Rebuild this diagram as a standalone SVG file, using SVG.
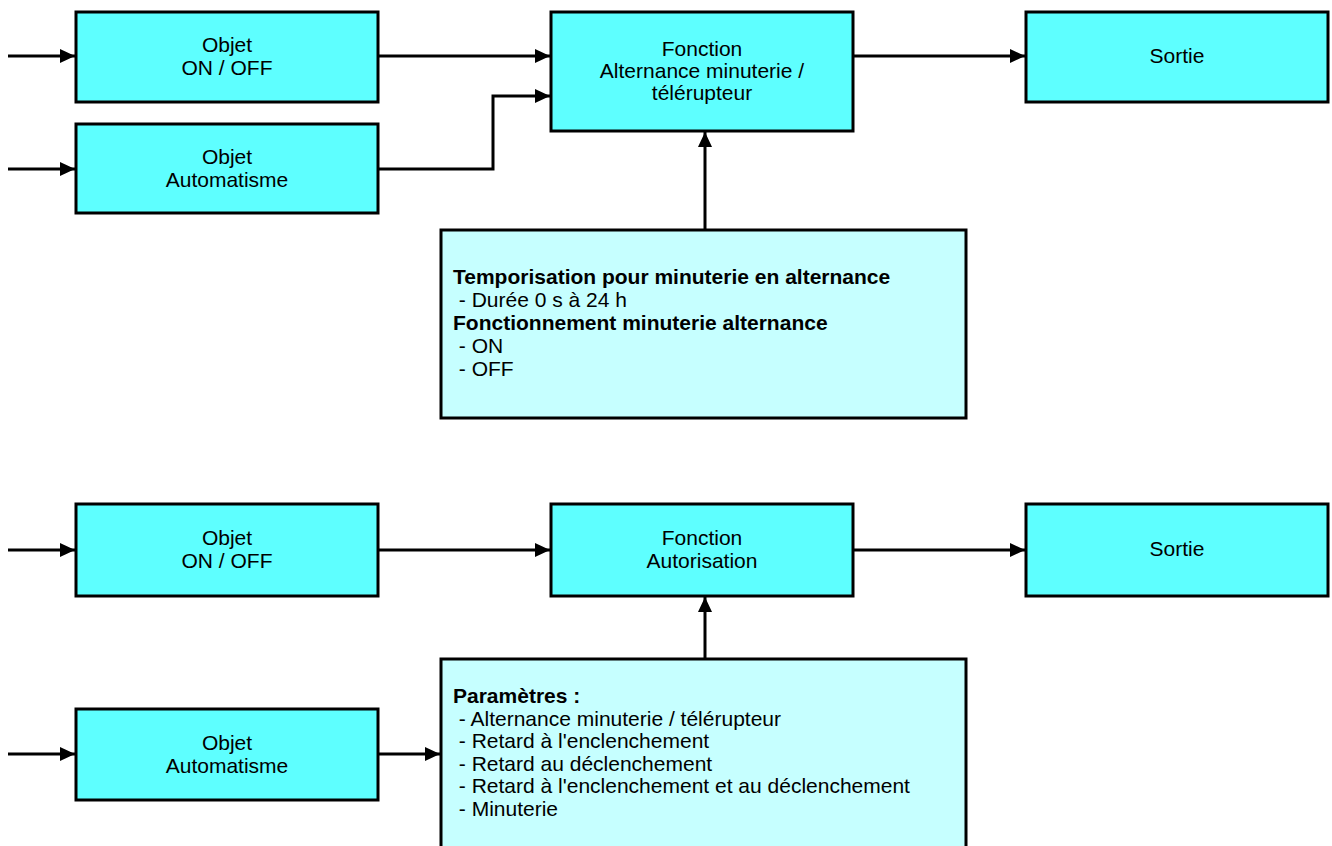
<svg xmlns="http://www.w3.org/2000/svg" width="1332" height="846" viewBox="0 0 1332 846">
<style>
.box{fill:#5EFFFF;stroke:#000;stroke-width:3}
.pbox{fill:#C6FFFF;stroke:#000;stroke-width:3}
.t{font-family:"Liberation Sans",Arial,sans-serif;font-size:21px;fill:#000}
.c{text-anchor:middle}
.b{font-weight:bold}
.wire{fill:none;stroke:#000;stroke-width:3;marker-end:url(#ah)}
</style>
<defs>
<marker id="ah" markerUnits="userSpaceOnUse" markerWidth="15" markerHeight="14" refX="15" refY="7" orient="auto">
<path d="M0,0 L15,7 L0,14 z" fill="#000"/>
</marker>
</defs>
<rect width="1332" height="846" fill="#fff"/>
<g id="connectors">
<path class="wire" d="M8,56 H75"/>
<path class="wire" d="M8,169 H75"/>
<path class="wire" d="M378,56 H550"/>
<path class="wire" d="M378,169 H493 V96 H550"/>
<path class="wire" d="M853,56 H1025"/>
<path class="wire" d="M705,229 V132"/>
<path class="wire" d="M8,550 H75"/>
<path class="wire" d="M378,550 H550"/>
<path class="wire" d="M853,550 H1025"/>
<path class="wire" d="M705,659 V597"/>
<path class="wire" d="M8,754 H75"/>
<path class="wire" d="M378,754 H440"/>
</g>
<g id="objet-onoff-1">
<rect class="box" x="76" y="12" width="302" height="90"/>
<text class="t c" x="227" y="52">Objet</text>
<text class="t c" x="227" y="75">ON / OFF</text>
</g>
<g id="objet-auto-1">
<rect class="box" x="76" y="124" width="302" height="89"/>
<text class="t c" x="227" y="164">Objet</text>
<text class="t c" x="227" y="187">Automatisme</text>
</g>
<g id="fonction-1">
<rect class="box" x="551" y="12" width="302" height="119"/>
<text class="t c" x="702" y="56">Fonction</text>
<text class="t c" x="702" y="78">Alternance minuterie /</text>
<text class="t c" x="702" y="100">télérupteur</text>
</g>
<g id="sortie-1">
<rect class="box" x="1026" y="12" width="302" height="90"/>
<text class="t c" x="1177" y="63">Sortie</text>
</g>
<g id="params-1">
<rect class="pbox" x="441" y="230" width="525" height="188"/>
<text class="t b" x="453" y="284">Temporisation pour minuterie en alternance</text>
<text class="t" x="453" y="307" xml:space="preserve"> - Durée 0 s à 24 h</text>
<text class="t b" x="453" y="330">Fonctionnement minuterie alternance</text>
<text class="t" x="453" y="353" xml:space="preserve"> - ON</text>
<text class="t" x="453" y="376" xml:space="preserve"> - OFF</text>
</g>
<g id="objet-onoff-2">
<rect class="box" x="76" y="504" width="302" height="92"/>
<text class="t c" x="227" y="545">Objet</text>
<text class="t c" x="227" y="568">ON / OFF</text>
</g>
<g id="fonction-2">
<rect class="box" x="551" y="504" width="302" height="92"/>
<text class="t c" x="702" y="545">Fonction</text>
<text class="t c" x="702" y="568">Autorisation</text>
</g>
<g id="sortie-2">
<rect class="box" x="1026" y="504" width="302" height="92"/>
<text class="t c" x="1177" y="556">Sortie</text>
</g>
<g id="objet-auto-2">
<rect class="box" x="76" y="709" width="302" height="91"/>
<text class="t c" x="227" y="750">Objet</text>
<text class="t c" x="227" y="773">Automatisme</text>
</g>
<g id="params-2">
<rect class="pbox" x="441" y="659" width="525" height="195"/>
<text class="t b" x="453" y="703">Paramètres :</text>
<text class="t" x="453" y="726" xml:space="preserve"> - Alternance minuterie / télérupteur</text>
<text class="t" x="453" y="748" xml:space="preserve"> - Retard à l'enclenchement</text>
<text class="t" x="453" y="771" xml:space="preserve"> - Retard au déclenchement</text>
<text class="t" x="453" y="793" xml:space="preserve"> - Retard à l'enclenchement et au déclenchement</text>
<text class="t" x="453" y="816" xml:space="preserve"> - Minuterie</text>
</g>
</svg>
